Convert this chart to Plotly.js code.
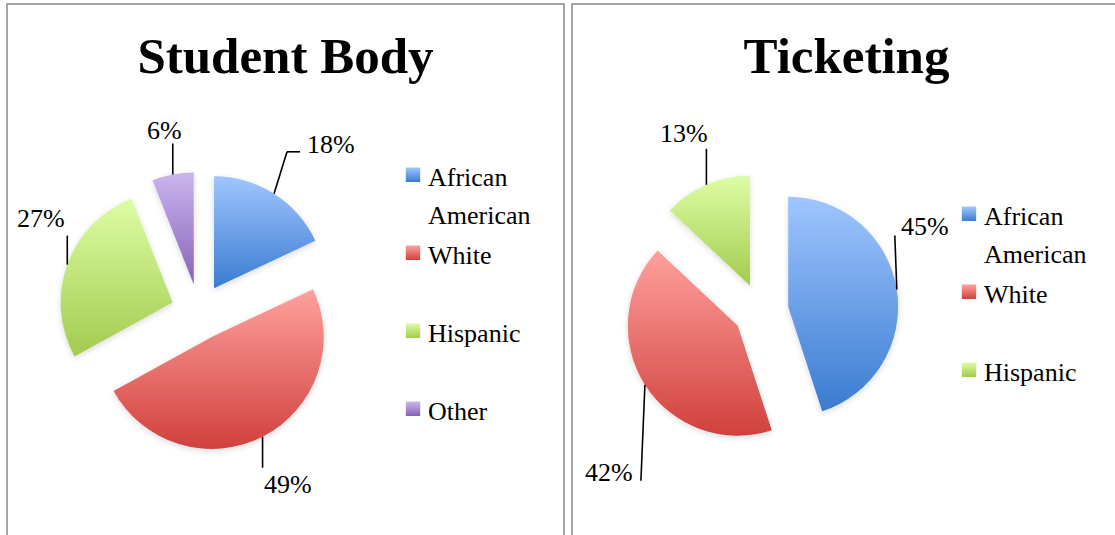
<!DOCTYPE html>
<html><head><meta charset="utf-8">
<script src="https://cdn.plot.ly/plotly-3.0.1.min.js"></script>
<style>
html,body{margin:0;padding:0;background:#fff;overflow:hidden;width:1115px;height:535px;}
.panel{position:absolute;top:3px;height:560px;border:2px solid #a5a5a5;background:#fff;}
</style></head><body>
<div id="p1" class="panel" style="left:6px;width:555px;"><div id="c1"></div></div>
<div id="p2" class="panel" style="left:571px;width:547px;"><div id="c2"></div></div>
<script>
// ---- data ----
const title1 = 'Student Body';
const categories1 = ['African American', 'White', 'Hispanic', 'Other'];
const values1 = [18, 49, 27, 6];

const title2 = 'Ticketing';
const categories2 = ['African American', 'White', 'Hispanic'];
const values2 = [45, 42, 13];

// ---- styles ----
const palette = {
  'African American': {flat: '#74a3ea', top: '#a0c6ff', bottom: '#3a7bd0'},
  'White':            {flat: '#e8726f', top: '#ffa19d', bottom: '#d0403d'},
  'Hispanic':         {flat: '#c0e27a', top: '#defda4', bottom: '#a2cb50'},
  'Other':            {flat: '#ab8fd6', top: '#cbb5ef', bottom: '#8663b6'}
};

// geometry / label placement (pixels inside each panel)
const geom1 = {
  W: 555, H: 540, cx: 191, cy: 307, r: 112, pull: 0.25, titleY: 50.5,
  legendX: 380, legendTop: 144.5,
  leaders: [
    {line: [[13, -42], [26, -42]], text: [57, -49]},
    {line: [[0, 31]], text: [25, 48]},
    {line: [[0, -29]], text: [-26, -46]},
    {line: [[0, -31]], text: [-8, -44]}
  ]
};
const geom2 = {
  W: 547, H: 540, cx: 188, cy: 306, r: 110, pull: 0.25, titleY: 50.5,
  legendX: 371, legendTop: 183.5,
  leaders: [
    {line: [[-2, -54]], text: [28, -63]},
    {line: [[-4, 96]], text: [-36, 88]},
    {line: [[0, -36]], text: [-22, -51]}
  ]
};

const SERIF = 'Liberation Serif, Times New Roman, serif';
const TITLEFONT = 'Liberation Serif, Times New Roman, serif';
const TEXTSIZE = 26;

function legendLabel(c) {
  const words = c.split(' ');
  let lines = c.length > 10 ? words : [c, '\u00a0'];
  return lines.map(l => '<span style="font-size:' + TEXTSIZE + 'px">' + l + '</span>').join('<br>');
}

function hexToRgb(h) {
  const n = parseInt(h.slice(1), 16);
  return 'rgb(' + ((n >> 16) & 255) + ', ' + ((n >> 8) & 255) + ', ' + (n & 255) + ')';
}

function applyGradients(gd, id, cats) {
  const NS = 'http://www.w3.org/2000/svg';
  const svg = gd.querySelector('svg.main-svg');
  let defs = svg.querySelector('defs');
  if (!defs) { defs = document.createElementNS(NS, 'defs'); svg.insertBefore(defs, svg.firstChild); }
  const map = {};
  cats.forEach((c, k) => {
    const lg = document.createElementNS(NS, 'linearGradient');
    const gid = id + '-grad' + k;
    lg.setAttribute('id', gid);
    lg.setAttribute('x1', '0'); lg.setAttribute('y1', '0');
    lg.setAttribute('x2', '0'); lg.setAttribute('y2', '1');
    [[0, palette[c].top], [1, palette[c].bottom]].forEach(([o, col]) => {
      const s = document.createElementNS(NS, 'stop');
      s.setAttribute('offset', o); s.setAttribute('stop-color', col);
      lg.appendChild(s);
    });
    defs.appendChild(lg);
    map[hexToRgb(palette[c].flat)] = gid;
  });
  const f = document.createElementNS(NS, 'filter');
  f.setAttribute('id', id + '-shadow');
  f.setAttribute('x', '-20%'); f.setAttribute('y', '-20%');
  f.setAttribute('width', '140%'); f.setAttribute('height', '140%');
  f.innerHTML = '<feGaussianBlur in="SourceAlpha" stdDeviation="3"/>' +
    '<feOffset dx="0" dy="2" result="ob"/>' +
    '<feComponentTransfer><feFuncA type="linear" slope="0.15"/></feComponentTransfer>' +
    '<feMerge><feMergeNode/><feMergeNode in="SourceGraphic"/></feMerge>';
  defs.appendChild(f);
  gd.querySelectorAll('path').forEach(p => {
    const fill = p.style.fill;
    if (map[fill]) {
      p.style.fill = 'url(#' + map[fill] + ')';
      if (p.closest('.slice')) p.setAttribute('filter', 'url(#' + id + '-shadow)');
    }
  });
  // slightly larger legend swatches, nudged right like the original
  gd.querySelectorAll('.legendpoints path').forEach(p => {
    const t = p.getAttribute('transform') || '';
    p.setAttribute('transform', t + ' translate(5,0) scale(1.2)');
  });
}

async function draw(id, cats, vals, titleText, g) {
  const hb = g.r * (1 + g.pull);
  const trace = {
    type: 'pie',
    labels: cats.map(legendLabel),
    values: vals,
    sort: false,
    direction: 'clockwise',
    rotation: 0,
    pull: cats.map(() => g.pull),
    textinfo: 'none',
    hoverinfo: 'skip',
    marker: {colors: cats.map(c => palette[c].flat), line: {width: 0}},
    domain: {x: [(g.cx - hb) / g.W, (g.cx + hb) / g.W], y: [1 - (g.cy + hb) / g.H, 1 - (g.cy - hb) / g.H]}
  };
  const layout = {
    width: g.W, height: g.H,
    margin: {l: 0, r: 0, t: 0, b: 0},
    paper_bgcolor: '#ffffff',
    font: {family: SERIF, color: '#000'},
    title: {
      text: titleText,
      font: {family: TITLEFONT, size: 51, color: '#000', weight: 'bold'},
      x: 0.5, xanchor: 'center', xref: 'paper',
      y: 1 - g.titleY / g.H, yanchor: 'middle', yref: 'container'
    },
    showlegend: true,
    legend: {
      x: g.legendX / g.W, y: 1 - g.legendTop / g.H, xanchor: 'left', yanchor: 'top',
      font: {family: SERIF, size: 28.85, color: '#000'},
      valign: 'top', bgcolor: 'rgba(0,0,0,0)', borderwidth: 0
    }
  };
  await Plotly.newPlot(id, [trace], layout, {staticPlot: true, displayModeBar: false});
  const gd = document.getElementById(id);
  const c0 = gd.calcdata[0][0];
  const cx = (c0.cx !== undefined) ? c0.cx : g.cx;
  const cy = (c0.cy !== undefined) ? c0.cy : g.cy;
  const r = (c0.r !== undefined) ? c0.r : g.r;
  const total = vals.reduce((a, b) => a + b, 0);
  let cum = 0;
  const shapes = [], annotations = [];
  vals.forEach((v, i) => {
    const th = 2 * Math.PI * (cum + v / 2) / total;
    cum += v;
    const d = r * (1 + g.pull);
    const px = cx + d * Math.sin(th), py = cy - d * Math.cos(th);
    const L = g.leaders[i];
    let prev = [px, py];
    L.line.forEach(o => {
      const nx = px + o[0], ny = py + o[1];
      shapes.push({type: 'line', xref: 'paper', yref: 'paper',
        x0: prev[0] / g.W, y0: 1 - prev[1] / g.H, x1: nx / g.W, y1: 1 - ny / g.H,
        line: {color: '#000', width: 1.6}});
      prev = [nx, ny];
    });
    annotations.push({xref: 'paper', yref: 'paper',
      x: (px + L.text[0]) / g.W, y: 1 - (py + L.text[1]) / g.H,
      xanchor: 'center', yanchor: 'middle', showarrow: false,
      text: Math.round(v / total * 100) + '%',
      font: {family: SERIF, size: TEXTSIZE, color: '#000'}});
  });
  await Plotly.relayout(gd, {shapes: shapes, annotations: annotations});
  applyGradients(gd, id, cats);
}

draw('c1', categories1, values1, title1, geom1);
draw('c2', categories2, values2, title2, geom2);
</script>
</body></html>
